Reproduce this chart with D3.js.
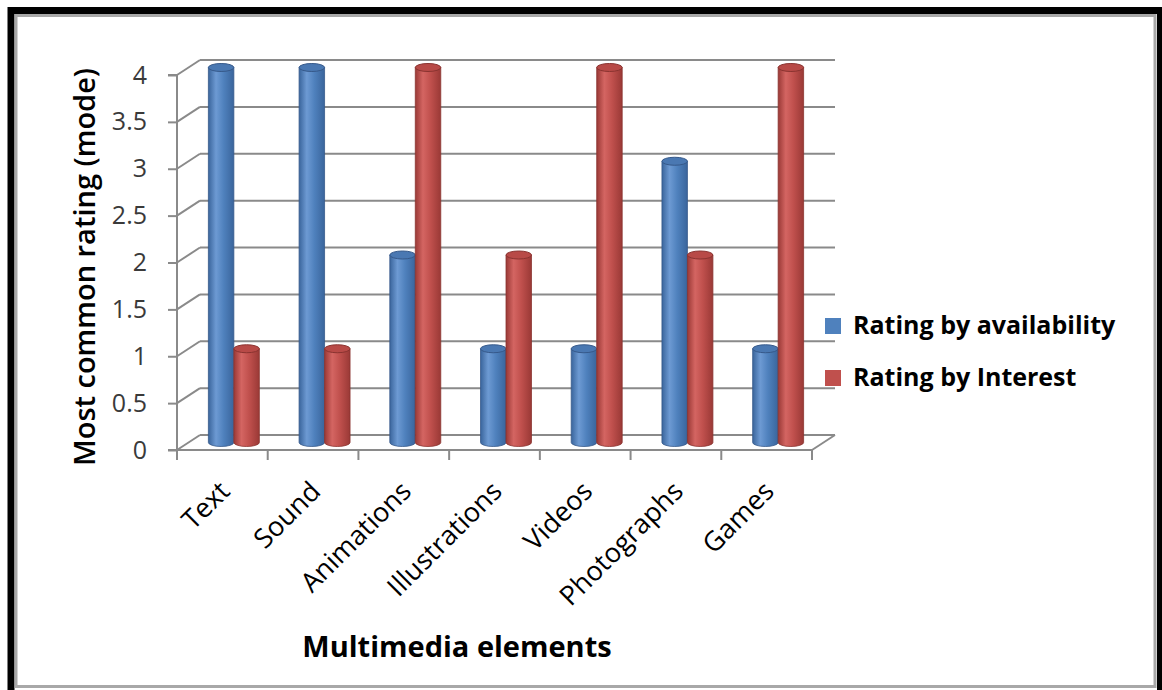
<!DOCTYPE html>
<html>
<head>
<meta charset="utf-8">
<script src="https://cdn.jsdelivr.net/npm/d3@7"></script>
<style>
  body { margin: 0; background: #fff; }
  svg { display: block; font-family: "Open Sans", sans-serif; }
</style>
</head>
<body>
<div id="chart"></div>
<script>
// data
var categories = ["Text", "Sound", "Animations", "Illustrations", "Videos", "Photographs", "Games"];
var seriesNames = ["Rating by availability", "Rating by Interest"];
var availability = [4, 4, 2, 1, 1, 3, 1];
var interest = [1, 1, 4, 2, 4, 2, 4];
var yTicks = [0, 0.5, 1, 1.5, 2, 2.5, 3, 3.5, 4];

var W = 1162, H = 690;
var depthX = 23, depthY = -15;   // 3d wall offset
var gridColor = "#8a8a8a";

var svg = d3.select("#chart").append("svg")
  .attr("width", W)
  .attr("height", H);

// frame
svg.append("rect")
  .attr("x", 11).attr("y", 10.5)
  .attr("width", 1149.5).attr("height", 685)
  .attr("fill", "#fff")
  .attr("stroke", "#000").attr("stroke-width", 7);
svg.append("rect")
  .attr("x", 16).attr("y", 15.5)
  .attr("width", 1139).attr("height", 671)
  .attr("fill", "none")
  .attr("stroke", "#a8a8a8").attr("stroke-width", 3);

var x = d3.scaleBand()
  .domain(categories)
  .range([177, 812]);

var y = d3.scaleLinear()
  .domain([0, 4])
  .range([450, 75]);

var x1 = d3.scaleBand()
  .domain(seriesNames)
  .range([0, x.bandwidth()])
  .paddingOuter(0.78);

// gradients for the cylinders
var defs = svg.append("defs");
var palette = [
  { id: "blueGrad", dark: "#3a659c", mid: "#4f81bd", light: "#6d9ad3", cap: "#4a78b2", rim: "#36598a" },
  { id: "redGrad", dark: "#9a3936", mid: "#c0504d", light: "#d46562", cap: "#b84a47", rim: "#8a3330" }
];
palette.forEach(function(p) {
  var g = defs.append("linearGradient").attr("id", p.id)
    .attr("x1", "0%").attr("x2", "100%").attr("y1", "0%").attr("y2", "0%");
  g.append("stop").attr("offset", "0%").attr("stop-color", p.dark);
  g.append("stop").attr("offset", "30%").attr("stop-color", p.light);
  g.append("stop").attr("offset", "60%").attr("stop-color", p.mid);
  g.append("stop").attr("offset", "100%").attr("stop-color", p.dark);
});

var grid = svg.append("g")
  .attr("stroke", gridColor)
  .attr("stroke-width", 2)
  .attr("fill", "none");

// back wall gridlines
grid.selectAll(".wall")
  .data(yTicks)
  .join("line")
  .attr("x1", 177 + depthX).attr("x2", 812 + depthX)
  .attr("y1", function(d) { return y(d) + depthY; })
  .attr("y2", function(d) { return y(d) + depthY; });

// side wall diagonals
grid.selectAll(".side")
  .data(yTicks)
  .join("line")
  .attr("x1", 177).attr("x2", 177 + depthX)
  .attr("y1", function(d) { return y(d); })
  .attr("y2", function(d) { return y(d) + depthY; });

// floor right diagonal
grid.append("line")
  .attr("x1", 812).attr("x2", 812 + depthX)
  .attr("y1", y(0)).attr("y2", y(0) + depthY);

// y axis
svg.append("g")
  .attr("transform", "translate(177,0)")
  .call(d3.axisLeft(y).tickValues(yTicks).tickSize(9).tickPadding(21)
    .tickFormat(function(d) { return d; }))
  .call(function(g) {
    g.select(".domain").attr("stroke", gridColor).attr("stroke-width", 2)
      .attr("d", "M-9," + y(4) + "H0V" + y(0) + "H-9");
    g.selectAll(".tick line").attr("stroke", gridColor).attr("stroke-width", 2);
    g.selectAll(".tick text")
      .attr("fill", "#3a3a3a")
      .style("font-size", "25px")
      .style("font-family", "'Open Sans', sans-serif");
  });

// x axis (front floor edge)
svg.append("g")
  .attr("transform", "translate(0," + y(0) + ")")
  .call(d3.axisBottom(x).tickSize(0).tickFormat(""))
  .call(function(g) {
    g.select(".domain").attr("stroke", gridColor).attr("stroke-width", 2)
      .attr("d", "M177,0H812");
  });

var boundaries = categories.map(function(c) { return x(c); }).concat([812]);
grid.selectAll(".xtick")
  .data(boundaries)
  .join("line")
  .attr("x1", function(d) { return d; }).attr("x2", function(d) { return d; })
  .attr("y1", y(0)).attr("y2", y(0) + 10);

// x labels
svg.append("g")
  .selectAll("text")
  .data(categories)
  .join("text")
  .attr("transform", function(d) {
    return "translate(" + (x(d) + x.bandwidth() / 2 + 9) + "," + (y(0) + 43) + ") rotate(-45)";
  })
  .attr("text-anchor", "end")
  .style("font-size", "27px")
  .attr("fill", "#000")
  .text(function(d) { return d; });

// cylinders
var series = [availability, interest];
var rx = x1.bandwidth() / 2, ry = 4;
series.forEach(function(vals, si) {
  var p = palette[si];
  var g = svg.append("g");
  vals.forEach(function(v, i) {
    var cx = x(categories[i]) + x1(seriesNames[si]) + rx + depthX / 2;
    var yb = y(0) + depthY / 2;
    var yt = y(v) + depthY / 2;
    g.append("path")
      .attr("d", "M" + (cx - rx) + "," + yt +
        "V" + yb +
        "A" + rx + "," + ry + " 0 0 0 " + (cx + rx) + "," + yb +
        "V" + yt + "Z")
      .attr("fill", "url(#" + p.id + ")")
      .attr("stroke", p.rim)
      .attr("stroke-width", 0.8);
    g.append("ellipse")
      .attr("cx", cx).attr("cy", yt)
      .attr("rx", rx).attr("ry", ry)
      .attr("fill", p.cap)
      .attr("stroke", p.rim)
      .attr("stroke-width", 1);
  });
});

// axis titles
svg.append("text")
  .attr("transform", "translate(95,267) rotate(-90)")
  .attr("text-anchor", "middle")
  .style("font-size", "29px")
  .style("font-weight", "600")
  .text("Most common rating (mode)");

svg.append("text")
  .attr("x", 457).attr("y", 657)
  .attr("text-anchor", "middle")
  .style("font-size", "29px")
  .style("font-weight", "700")
  .text("Multimedia elements");

// legend
var legend = svg.append("g")
  .selectAll("g")
  .data(seriesNames)
  .join("g")
  .attr("transform", function(d, i) { return "translate(825," + (318 + i * 52) + ")"; });
legend.append("rect")
  .attr("width", 16).attr("height", 16)
  .attr("fill", function(d, i) { return palette[i].mid; });
legend.append("text")
  .attr("x", 28).attr("y", 16)
  .style("font-size", "25px")
  .style("font-weight", "700")
  .text(function(d) { return d; });
</script>
</body>
</html>
